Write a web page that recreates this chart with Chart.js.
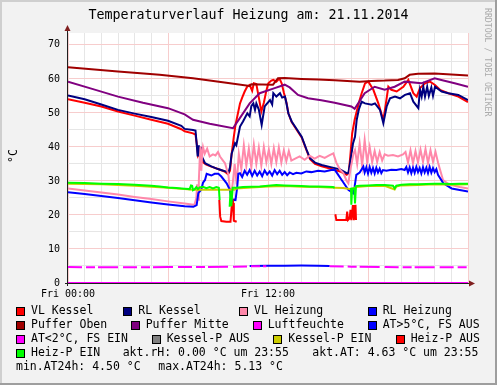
<!DOCTYPE html>
<html>
<head>
<meta charset="utf-8">
<script src="https://cdn.jsdelivr.net/npm/chart.js@4.4.1/dist/chart.umd.min.js"></script>
<style>
  html, body { margin: 0; padding: 0; background: #f2f2f2; }
  canvas { display: block; }
</style>
</head>
<body>
<canvas id="myChart" width="497" height="385"></canvas>
<script>
// values: [hour, °C]
const vlKessel = [[0,54.0],[1,53.0],[2,51.9],[3,50.4],[4,49.2],[5,48.0],[6,46.8],[6.8,45.2],[7,44.6],[7.5,44.0],[7.65,43.6],[7.75,40],[7.8,37.5],[7.9,38.5],[8,36.5],[8.1,35.5],[8.3,34.8],[8.6,34.2],[9,33.5],[9.4,32.8],[9.6,32.0],[9.72,33],[9.82,38],[9.95,43],[10.05,46.5],[10.2,50],[10.32,52.8],[10.45,54.5],[10.6,56.3],[10.75,57.7],[10.9,58.2],[11.05,56.5],[11.15,58.7],[11.3,58.5],[11.45,54.5],[11.6,50.4],[11.75,53],[11.9,56.5],[12.02,58.7],[12.2,59.5],[12.32,59.7],[12.5,59.2],[12.6,59.7],[12.7,60],[12.82,58.7],[12.95,56],[13.12,52.8],[13.22,49.9],[13.42,47.3],[13.62,45.8],[14.02,42.8],[14.32,38.9],[14.52,36.4],[14.82,35.0],[15.22,34.3],[15.82,33.5],[16.32,32.8],[16.72,31.8],[16.85,32.5],[16.95,38],[17.05,44],[17.2,48],[17.35,51],[17.5,53.8],[17.62,55.8],[17.82,58.7],[18.02,59.2],[18.32,56.8],[18.62,52.8],[18.92,47.9],[19.05,52],[19.22,57.7],[19.4,56.8],[19.72,56.3],[20.12,57.7],[20.42,59.7],[20.72,55.8],[20.92,54.8],[21.12,57.3],[21.42,58.7],[21.72,59.2],[22.02,58.2],[22.32,56.8],[22.82,55.8],[23.42,54.8],[24,53.2]];
const rlKessel = [[0,55.1],[1,54.0],[2,52.5],[3,50.9],[4,49.8],[5,48.8],[6,47.7],[6.8,46.2],[7,45.3],[7.5,45.0],[7.65,44.8],[7.72,41],[7.78,37.2],[7.85,40.5],[7.92,36.5],[8,40],[8.05,37],[8.22,35.2],[8.6,34.3],[9,33.5],[9.52,32.7],[9.62,32.3],[9.72,34],[9.82,38],[10.02,41.1],[10.1,40.5],[10.32,46],[10.5,47.5],[10.76,49.9],[10.9,49],[11,52],[11.12,52.8],[11.22,50.9],[11.3,52.8],[11.45,51],[11.62,46.5],[11.8,51.9],[12.12,53.8],[12.25,52.5],[12.32,55.8],[12.5,54.8],[12.72,55.8],[12.85,54.5],[13.02,54.8],[13.1,53],[13.22,49.9],[13.42,47.5],[13.62,46.0],[14.02,43.0],[14.32,39.1],[14.52,36.7],[14.82,35.4],[15.22,34.7],[15.82,34.0],[16.32,33.4],[16.72,32.3],[16.82,32.3],[16.95,36],[17.1,41],[17.22,43],[17.32,47.9],[17.45,51],[17.62,53.3],[17.82,52.8],[18.22,52.4],[18.42,52.8],[18.72,50.9],[18.92,47.0],[19.12,51.9],[19.32,54.3],[19.62,54.8],[19.92,54.3],[20.22,55.3],[20.52,55.8],[20.72,53.3],[21.02,51.4],[21.12,56.8],[21.22,54.8],[21.32,57.7],[21.42,54.8],[21.55,57.7],[21.65,55],[21.8,57.5],[21.9,55],[22.02,57.7],[22.42,56.3],[22.82,55.8],[23.42,55.3],[24,53.8]];
const vlHeizung = [[0,27.8],[1,27.2],[2,26.6],[3,26.0],[4,25.3],[5,24.7],[6,24.0],[7,23.4],[7.52,23.0],[7.6,23.2],[7.7,25],[7.75,29],[7.8,24.5],[7.85,30],[7.9,36],[7.95,40.1],[8,33],[8.05,38],[8.1,40],[8.2,38],[8.35,39.5],[8.5,37.2],[8.7,37.8],[8.85,37.5],[9,38.5],[9.12,37.2],[9.3,36],[9.42,35.2],[9.55,33],[9.62,32],[9.7,28],[9.8,26],[9.9,30],[10,35],[10.12,29],[10.25,38],[10.4,33.5],[10.55,40.5],[10.7,34.5],[10.85,39.5],[11,34],[11.15,40.6],[11.3,35],[11.45,39.8],[11.6,34.5],[11.75,40],[11.9,35.5],[12.05,39.2],[12.2,35],[12.35,39.6],[12.5,35.5],[12.65,39.8],[12.8,35.4],[12.95,39],[13.1,35.8],[13.25,38.8],[13.4,36],[13.6,36.5],[13.9,37.2],[14.2,36.2],[14.5,37.4],[14.8,36.6],[15.1,37.4],[15.4,36.8],[15.7,37.6],[15.92,38.1],[16.1,35.4],[16.3,33.5],[16.52,32.3],[16.72,30],[16.82,29.3],[16.95,33.5],[17.05,36],[17.12,38],[17.22,39.1],[17.35,35],[17.5,41],[17.65,34.5],[17.8,42],[17.95,35.5],[18.1,40],[18.25,35.5],[18.4,38.8],[18.55,35.6],[18.7,38.5],[18.85,36],[19,37.8],[19.2,37.4],[19.5,37.6],[19.8,37.2],[20.1,37.8],[20.25,38.5],[20.4,35.4],[20.55,39],[20.7,35.2],[20.85,38.8],[21,35.4],[21.15,39.2],[21.3,35.6],[21.45,39.4],[21.6,35.2],[21.75,39],[21.9,35.6],[22.05,38.6],[22.2,35.4],[22.5,30.3],[22.8,29.2],[23,28.8],[23.5,28.2],[24,27.8]];
const rlHeizung = [[0,26.7],[1,26.2],[2,25.6],[3,25.0],[4,24.3],[5,23.7],[6,23.1],[7,22.6],[7.52,22.4],[7.6,22.6],[7.72,22.9],[7.82,26.4],[8,27.5],[8.1,29.5],[8.22,30.3],[8.32,32.1],[8.6,31.6],[8.8,32.1],[9.02,32.1],[9.2,31.3],[9.52,29.3],[9.72,27.3],[9.82,23.9],[9.95,24.5],[10.05,24.4],[10.15,28],[10.22,32.1],[10.32,32.3],[10.45,31.2],[10.6,33],[10.75,31.8],[10.9,33.2],[11.05,31.5],[11.2,33],[11.35,31.6],[11.5,32.8],[11.65,31.4],[11.8,33.1],[11.95,31.9],[12.1,32.8],[12.25,31.6],[12.4,33.2],[12.55,32],[12.7,33],[12.85,31.8],[13,32.6],[13.15,31.7],[13.3,32.5],[13.5,32.0],[13.7,32.4],[14,32.2],[14.3,32.8],[14.6,32.6],[15,33.0],[15.4,32.8],[15.8,33.2],[16.02,33.2],[16.42,30.3],[16.82,27.4],[17.12,26.4],[17.2,28.4],[17.3,31.8],[17.5,32.5],[17.72,34.2],[17.8,32.5],[17.9,34],[18,32.2],[18.1,34.1],[18.2,32.4],[18.3,33.8],[18.4,32.2],[18.5,33.9],[18.6,32.5],[18.7,33.6],[18.8,32.3],[18.9,33.2],[19.1,33.0],[19.4,33.3],[19.7,33.2],[20,33.5],[20.2,33.2],[20.3,34.1],[20.4,32.5],[20.5,34],[20.6,32.3],[20.7,33.9],[20.8,32.4],[20.9,34.1],[21,32.6],[21.1,33.8],[21.2,32.2],[21.3,34],[21.4,32.5],[21.5,33.9],[21.6,32.3],[21.7,34.1],[21.8,32.4],[21.9,33.8],[22,32.6],[22.1,33.5],[22.2,31.8],[22.52,29.3],[23.02,27.8],[24,26.9]];
const pufferOben = [[0,63.4],[3,62.2],[5.5,61.2],[7.5,60.2],[9.5,58.9],[10.9,57.9],[11,58.4],[12.3,58.3],[12.6,60.2],[13,60.3],[14,60.0],[15,59.8],[16,59.6],[17,59.3],[17.5,59.2],[18.2,59.4],[19,59.5],[19.8,59.7],[20.2,60.2],[20.5,61.2],[21,61.5],[22,61.6],[23,61.3],[24,61.0]];
const pufferMitte = [[0,59.2],[1.5,57.0],[3,54.8],[4.5,53.0],[6,51.4],[7,49.6],[7.5,48.0],[8.5,46.8],[9.9,45.5],[10.3,48.4],[10.9,52.8],[11.5,55.8],[12.4,57.3],[13,58.3],[13.3,57.5],[13.8,55.3],[14.4,54.3],[15.2,53.7],[16,53.0],[17,51.9],[17.2,51.2],[17.5,53.5],[17.8,55.8],[18.4,57.7],[19,56.8],[19.6,57.7],[20.2,59.2],[21.2,58.7],[22,60.2],[22.4,59.7],[23.2,58.7],[24,57.7]];
const luftfeuchte = [[0,0],[24,0]];
const atHigh = [[10.9,5.0],[12,5.05],[13,5.1],[14,5.13],[15,5.1],[15.7,5.0]];
const atLow = [[0,4.7],[2,4.6],[4,4.6],[6,4.7],[8,4.7],[10,4.8],[11,4.9],[11.9,4.9],[11.95,null],[15.6,null],[15.7,4.9],[17,4.8],[19,4.7],[21,4.6],[23,4.6],[24,4.6]];
const kesselPAus = [];
const kesselPEin = [[0,29.2],[2,29.0],[4,28.6],[6,28.0],[7,27.6],[7.5,27.4],[8,27.4],[9,27.4],[10,27.4],[10.1,27.8],[11,28.1],[12,28.4],[13,28.5],[14,28.3],[15,28.2],[16,28.0],[16.5,27.9],[17,27.6],[17.3,28.2],[18,28.5],[19,28.6],[19.6,27.5],[19.7,28.4],[20,28.7],[21,28.8],[22,29.0],[23,28.9],[24,29.0]];
const heizPAus = [[9.08,24.4],[9.13,19.5],[9.2,18.2],[9.5,18.0],[9.75,18.0],[9.82,22.4],[9.9,23.5],[9.95,18.3],[10.12,18.0],[10.13,null],[16.0,null],[16.04,20.2],[16.1,18.5],[16.7,18.5],[16.75,21.0],[16.8,18.5],[16.9,19.0],[16.95,21.5],[17.0,18.5],[17.1,22.9],[17.15,18.5],[17.25,23.0],[17.28,18.5]];
const heizPEin = [[0,29.5],[1,29.4],[2,29.2],[3,29.1],[4,28.9],[5,28.6],[5.5,28.4],[6,28.1],[6.5,27.9],[7,27.7],[7.3,27.6],[7.38,28.7],[7.45,28.6],[7.5,27.3],[7.6,27.6],[7.7,28.2],[7.8,27.6],[7.9,28.1],[8.1,28.3],[8.3,27.9],[8.5,28.2],[8.7,27.8],[8.9,28.2],[9.05,28.0],[9.1,24.4],[9.12,null],[9.68,null],[9.7,22.4],[9.75,27.0],[9.8,22.6],[9.88,28.0],[10.1,28.0],[10.5,28.2],[11,28.3],[11.5,28.4],[12,28.6],[12.5,28.8],[13,28.7],[13.5,28.6],[14,28.5],[14.5,28.4],[15,28.4],[15.5,28.3],[15.9,28.2],[16,28.0],[16.02,null],[16.96,null],[16.98,28.0],[17,23.0],[17.05,27.8],[17.18,27.8],[17.22,23.4],[17.28,28.5],[17.5,28.6],[18,28.7],[18.5,28.8],[19,28.8],[19.5,28.6],[19.6,27.8],[19.7,28.6],[20,28.9],[20.5,29.0],[21,29.0],[21.5,29.1],[22,29.2],[22.5,29.2],[23,29.1],[23.5,29.2],[24,29.2]];

const seriesNames = ["VL Kessel", "RL Kessel", "VL Heizung", "RL Heizung", "Puffer Oben", "Puffer Mitte", "Luftfeuchte", "AT>5°C, FS AUS", "AT<2°C, FS EIN", "Kessel-P AUS", "Kessel-P EIN", "Heiz-P AUS", "Heiz-P EIN"];
const seriesData = [vlKessel, rlKessel, vlHeizung, rlHeizung, pufferOben, pufferMitte, luftfeuchte, atHigh, atLow, kesselPAus, kesselPEin, heizPAus, heizPEin];
const seriesColors = ["#FF0000", "#000080", "#FF88AA", "#0000FF", "#A00000", "#800080", "#FF00FF", "#0000FF", "#FF00FF", "#808080", "#CCCC00", "#FF0000", "#00FF00"];

const xTickHours = [0, 12];
const xTickLabels = ["Fri 00:00", "Fri 12:00"];

const titleText = "Temperaturverlauf Heizung am: 21.11.2014";
const aktRH = "0.00";
const aktAT = "4.63";
const aktTime = "23:55";
const minAT = "4.50";
const maxAT = "5.13";

const mono = "'DejaVu Sans Mono', monospace";

const datasets = seriesNames.map((name, i) => ({
  label: name,
  data: seriesData[i].map((p) => ({ x: p[0], y: p[1] })),
  borderColor: seriesColors[i],
  backgroundColor: seriesColors[i],
  borderWidth: 2,
  pointRadius: 0,
  tension: 0,
  fill: false,
  spanGaps: false,
  order: seriesNames.length - i,
  borderDash: name === "AT<2°C, FS EIN" ? [14, 4, 9, 3, 20, 5] : [],
}));

// legend layout, rrdtool style
const legendRows = [
  { y: 311, items: [[0, 31], [1, 138.3], [2, 254], [3, 382.7]] },
  { y: 325, items: [[4, 31], [5, 145.7], [6, 267.7], [7, 382.7]] },
  { y: 339, items: [[8, 31], [9, 166.7], [10, 288.3], [11, 410.7]] },
  { y: 353, items: [[12, 31]] },
];

const rrdPlugin = {
  id: "rrd",
  beforeDraw(chart) {
    const ctx = chart.ctx;
    const a = chart.chartArea;
    const w = chart.width, h = chart.height;
    ctx.save();
    ctx.fillStyle = "#F2F2F2";
    ctx.fillRect(0, 0, w, h);
    ctx.fillStyle = "#CFCFCF";
    ctx.fillRect(0, 0, w, 2);
    ctx.fillRect(0, 0, 2, h);
    ctx.fillStyle = "#9E9E9E";
    ctx.fillRect(0, h - 2, w, 2);
    ctx.fillRect(w - 2, 0, 2, h);
    ctx.fillStyle = "#FFFFFF";
    ctx.fillRect(a.left, a.top, a.right - a.left, a.bottom - a.top);
    ctx.restore();
  },
  beforeDatasetsDraw(chart) {
    const ctx = chart.ctx;
    const a = chart.chartArea;
    ctx.save();
    ctx.strokeStyle = "#1F1F1F";
    ctx.lineWidth = 1;
    ctx.beginPath();
    ctx.moveTo(a.left - 0.5, a.bottom + 3);
    ctx.lineTo(a.left - 0.5, a.top - 4);
    ctx.moveTo(a.left - 3, a.bottom + 0.5);
    ctx.lineTo(a.right + 3, a.bottom + 0.5);
    ctx.stroke();
    ctx.restore();
  },
  afterDatasetsDraw(chart) {
    const ctx = chart.ctx;
    const a = chart.chartArea;
    ctx.save();
    ctx.fillStyle = "#801F1F";
    ctx.beginPath();
    ctx.moveTo(a.left - 0.5, a.top - 8);
    ctx.lineTo(a.left - 3.5, a.top - 2);
    ctx.lineTo(a.left + 2.5, a.top - 2);
    ctx.closePath();
    ctx.fill();
    ctx.beginPath();
    ctx.moveTo(a.right + 7, a.bottom + 0.5);
    ctx.lineTo(a.right + 1, a.bottom - 2.5);
    ctx.lineTo(a.right + 1, a.bottom + 3.5);
    ctx.closePath();
    ctx.fill();
    ctx.restore();
  },
  afterDraw(chart) {
    const ctx = chart.ctx;
    const ds = chart.data.datasets;
    ctx.save();

    // title, centred on the whole image
    ctx.fillStyle = "#000000";
    ctx.font = "13.3px " + mono;
    ctx.textAlign = "center";
    ctx.textBaseline = "middle";
    ctx.fillText(titleText, chart.width / 2, 16);

    ctx.font = "11.5px " + mono;
    ctx.textAlign = "left";
    legendRows.forEach((row) => {
      row.items.forEach(([idx, tx]) => {
        const bx = Math.round(tx - 15) + 0.5;
        const by = Math.round(row.y - 4) + 0.5;
        ctx.fillStyle = ds[idx].borderColor;
        ctx.fillRect(bx, by, 8, 8);
        ctx.strokeStyle = "#000000";
        ctx.lineWidth = 1;
        ctx.strokeRect(bx, by, 8, 8);
        ctx.fillStyle = "#000000";
        ctx.fillText(ds[idx].label, tx, row.y + 0.5);
      });
    });
    ctx.fillText("akt.rH: " + aktRH + " °C um " + aktTime, 122.7, 353.5);
    ctx.fillText("akt.AT: " + aktAT + " °C um " + aktTime, 312.3, 353.5);
    ctx.fillText("min.AT24h: " + minAT + " °C", 16, 367.5);
    ctx.fillText("max.AT24h: " + maxAT + " °C", 158.3, 367.5);

    // y axis title
    ctx.save();
    ctx.translate(14, 156);
    ctx.rotate(-Math.PI / 2);
    ctx.textAlign = "center";
    ctx.fillText("°C", 0, 0);
    ctx.restore();

    // watermark
    ctx.save();
    ctx.translate(487, 8);
    ctx.rotate(Math.PI / 2);
    ctx.textAlign = "left";
    ctx.fillStyle = "#ABABAB";
    ctx.font = "8.2px " + mono;
    ctx.fillText("RRDTOOL / TOBI OETIKER", 0, 0);
    ctx.restore();

    ctx.restore();
  },
};

Chart.defaults.font.family = mono;
Chart.defaults.color = "#000000";

const myChart = new Chart(document.getElementById("myChart"), {
  type: "line",
  data: { datasets: datasets },
  options: {
    responsive: false,
    animation: false,
    events: [],
    layout: { padding: { left: 0, right: 29, top: 33, bottom: 0 } },
    plugins: {
      legend: { display: false },
      tooltip: { enabled: false },
      title: { display: false },
    },
    scales: {
      x: {
        type: "linear",
        min: 0,
        max: 24,
        afterFit: (scale) => { scale.height = 102; },
        border: { display: false },
        grid: {
          drawTicks: false,
          lineWidth: 1,
          color: (c) => (c.tick.value % 6 === 0 ? "#F7CDCD" : "#E6E6E6"),
        },
        ticks: {
          stepSize: 1,
          autoSkip: false,
          maxRotation: 0,
          padding: 5,
          font: { family: mono, size: 10 },
          callback: (v) => {
            const i = xTickHours.indexOf(v);
            return i >= 0 ? xTickLabels[i] : "";
          },
        },
      },
      y: {
        min: 0,
        max: 73.5,
        afterFit: (scale) => { scale.width = 68; },
        border: { display: false },
        grid: {
          drawTicks: false,
          lineWidth: 1,
          color: (c) => (c.tick.value % 10 === 0 ? "#F7CDCD" : "#E6E6E6"),
        },
        ticks: {
          stepSize: 5,
          includeBounds: false,
          padding: 8,
          font: { family: mono, size: 10 },
          callback: (v) => (v % 10 === 0 ? String(v) : ""),
        },
      },
    },
  },
  plugins: [rrdPlugin],
});
</script>
</body>
</html>
